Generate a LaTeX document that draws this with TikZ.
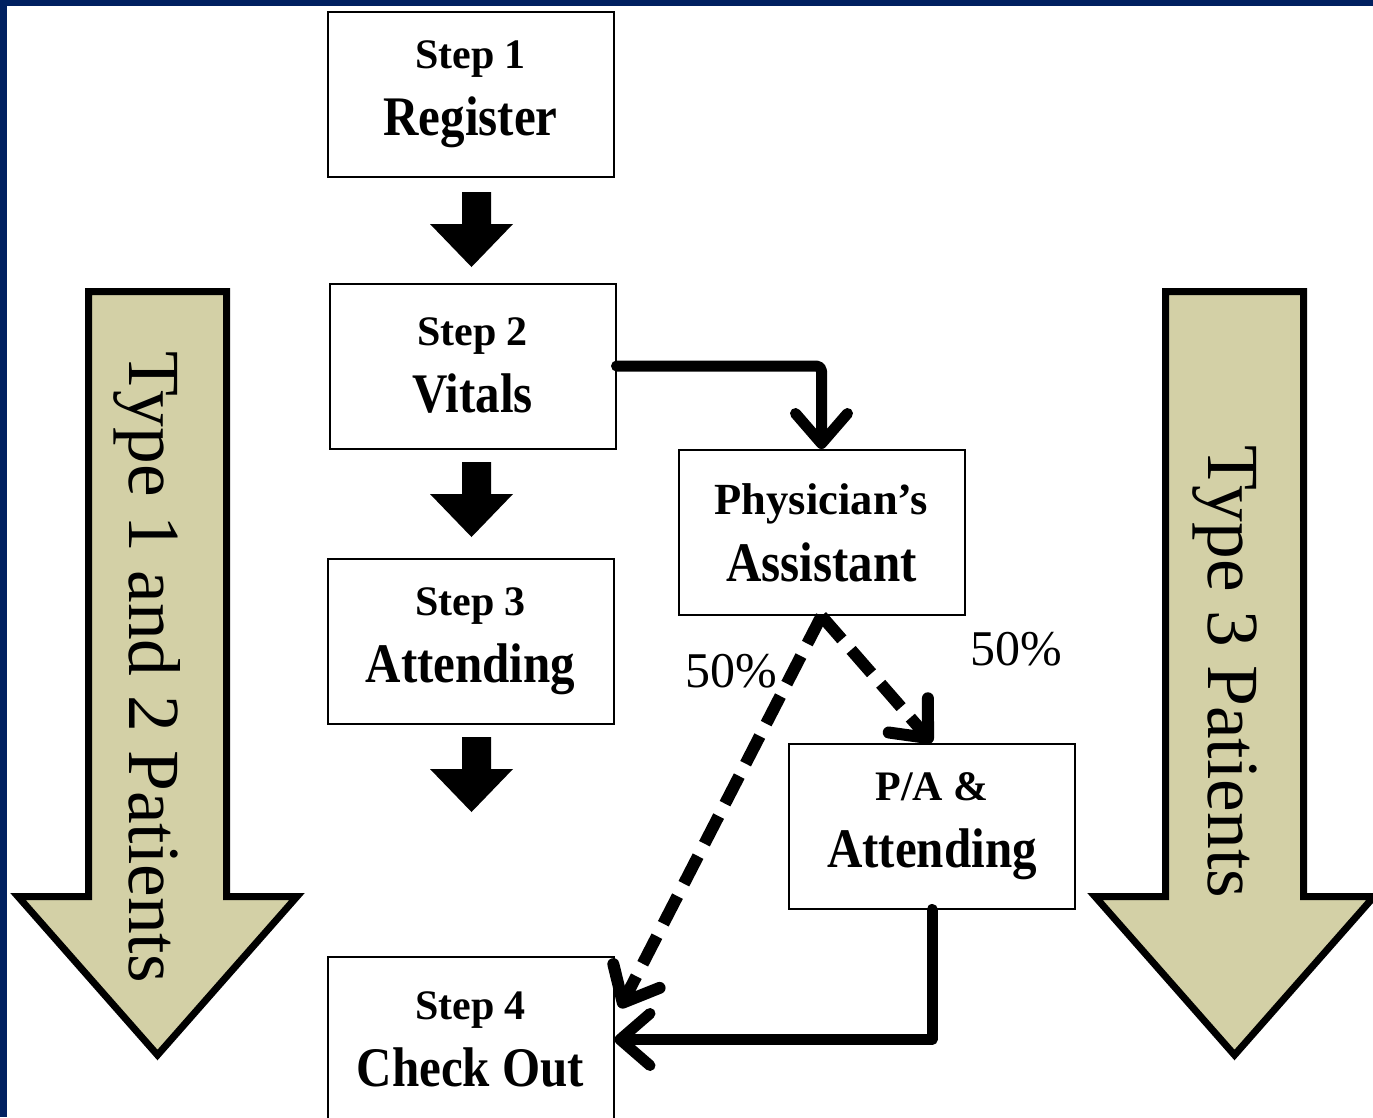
\documentclass[tikz,border=0pt]{standalone}
\usepackage{fontspec}
\setmainfont{Liberation Serif}
\usepackage{graphicx}
\usetikzlibrary{arrows.meta,calc}
\definecolor{navy}{RGB}{0,32,96}
\definecolor{khaki}{RGB}{211,208,166}
\newcommand{\sline}[2][42]{{\fontsize{#1}{48}\selectfont #2}}
\newcommand{\mline}[1]{{\fontsize{49}{60}\selectfont\scalebox{1}[1.14]{#1}}}
\tikzset{
  box/.style={draw=black, line width=2pt, fill=white, minimum width=286pt, minimum height=165pt,
    align=center, inner sep=0pt, font=\bfseries\fontsize{49}{67}\selectfont},
  bigarrow/.style={fill=khaki, draw=black, line width=7pt, line join=miter, miter limit=20},
  blockarrow/.style={fill=black},
  conn/.style={draw=black, line width=11pt, line cap=round, line join=round},
  dconn/.style={draw=black, line width=12pt, dash pattern=on 31pt off 14pt},
  tip/.style={-{Straight Barb[length=30pt,width=52pt,round]}},
  lbl/.style={font=\fontsize{50}{55}\selectfont, inner sep=0pt},
  sidelbl/.style={font=\fontsize{73.5}{80}\selectfont, inner sep=0pt, rotate=-90}
}
\begin{document}
\begin{tikzpicture}[x=1pt,y=-1pt]
\useasboundingbox (0,0) rectangle (1373,1117);
\fill[white] (0,0) rectangle (1373,1117);
\fill[navy] (0,0) rectangle (1373,6);
\fill[navy] (0,0) rectangle (7,1117);

% big side arrows
\filldraw[bigarrow] (88.5,291.5) -- (226.5,291.5) -- (226.5,896.5) -- (297,896.5) -- (157.5,1055) -- (18,896.5) -- (88.5,896.5) -- cycle;
\filldraw[bigarrow] (1165.5,291.5) -- (1303.5,291.5) -- (1303.5,896.5) -- (1374,896.5) -- (1234.5,1055) -- (1095,896.5) -- (1165.5,896.5) -- cycle;
\node[sidelbl] (t12) at (147,667) {Type 1 and 2 Patients};
\node[sidelbl] (t3) at (1224.5,672) {Type 3 Patients};

% boxes
\node[box] (s1) at (470.5,94.5) {\sline{Step 1}\\\mline{Register}};
\node[box] (s2) at (472.5,366) {\sline{Step 2}\\\mline{Vitals}};
\node[box] (s3) at (470.5,641) {\sline{Step 3}\\\mline{Attending}};
\node[box] (s4) at (470.5,1039.5) {\sline{Step 4}\\\mline{Check Out}};
\node[box] (pa) at (821.5,532.5) {\sline[44.5]{Physician's}\\\mline{Assistant}};
\node[box] (pat) at (932,826) {\sline{P/A \&}\\\mline{Attending}};

% block arrows
\foreach \dy in {0,270,545}{
  \fill[blockarrow] (462,192+\dy) -- (491,192+\dy) -- (491,224+\dy) -- (513,224+\dy)
    -- (471.5,267+\dy) -- (430,224+\dy) -- (462,224+\dy) -- cycle;
}

% connectors
\coordinate (d4) at (620,1008);
\draw[conn, tip, rounded corners=5pt] (s2.east) -| (pa.north);
\draw[dconn, tip] (pa.south) -- (pat.north);
\draw[dconn, tip] (pa.south) -- (d4);
\draw[conn, tip] (pat.south) |- (s4.east);

% labels
\node[lbl] (l1) at (731,671) {50\%};
\node[lbl] (l2) at (1016,649) {50\%};
\end{tikzpicture}
\end{document}
